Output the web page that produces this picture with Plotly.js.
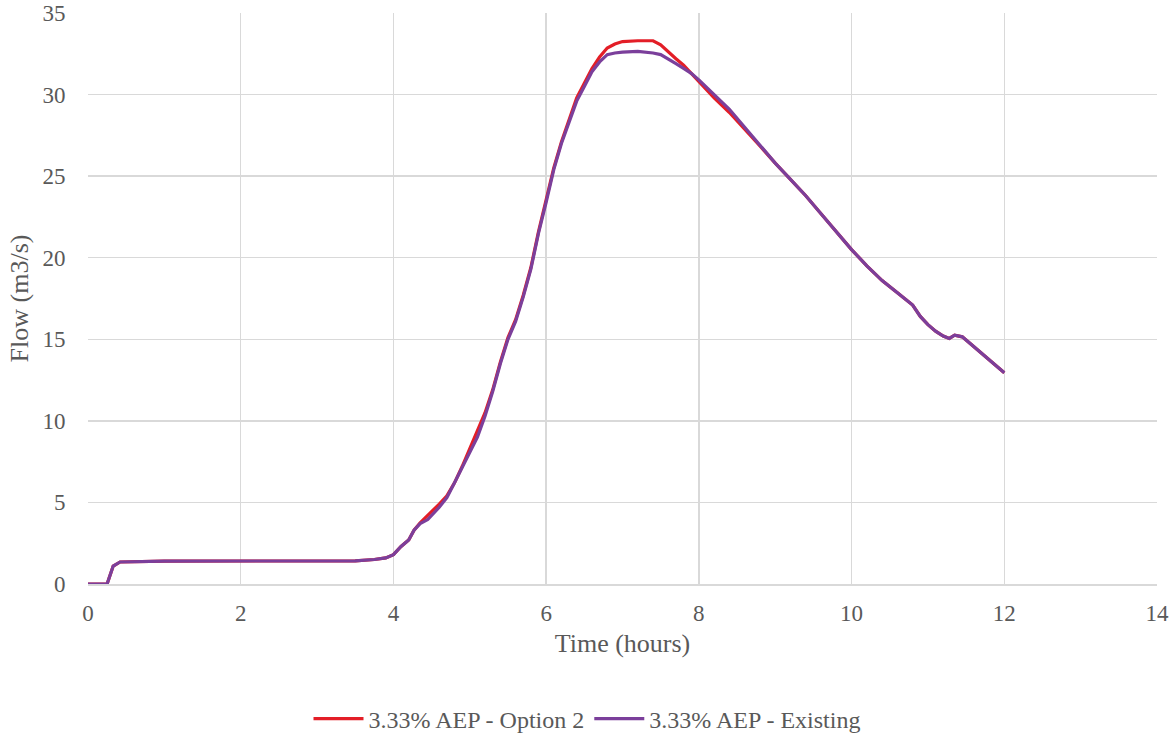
<!DOCTYPE html>
<html>
<head>
<meta charset="utf-8">
<script src="https://cdn.plot.ly/plotly-3.0.1.min.js"></script>
<style>html,body{margin:0;padding:0;background:#fff;}#chart{width:1174px;height:736px;}</style>
</head>
<body>
<div id="chart"></div>
<script>
const timeHours = [0, 0.25, 0.33, 0.42, 1, 2, 3, 3.5, 3.75, 3.9, 4.0, 4.1, 4.2, 4.27, 4.35, 4.45, 4.6, 4.7, 4.8, 4.9, 5.0, 5.1, 5.2, 5.3, 5.4, 5.5, 5.6, 5.7, 5.8, 5.9, 6.0, 6.1, 6.2, 6.3, 6.4, 6.5, 6.6, 6.7, 6.8, 6.9, 7.0, 7.2, 7.4, 7.5, 7.6, 7.7, 7.8, 7.9, 8.0, 8.2, 8.4, 8.6, 8.8, 9.0, 9.2, 9.4, 9.6, 9.8, 10.0, 10.2, 10.4, 10.6, 10.8, 10.9, 11.0, 11.1, 11.2, 11.28, 11.35, 11.45, 11.6, 11.7, 11.8, 11.9, 12.0];

const flowOption2 = [0, 0, 1.1, 1.35, 1.4, 1.4, 1.4, 1.42, 1.5, 1.6, 1.8, 2.3, 2.7, 3.3, 3.75, 4.2, 4.9, 5.4, 6.2, 7.2, 8.3, 9.3, 10.5, 11.9, 13.6, 15.1, 16.2, 17.7, 19.4, 21.6, 23.5, 25.5, 27.1, 28.5, 29.8, 30.7, 31.6, 32.3, 32.85, 33.1, 33.25, 33.3, 33.3, 33.05, 32.6, 32.2, 31.8, 31.3, 30.8, 29.8, 28.9, 27.9, 26.85, 25.8, 24.8, 23.8, 22.7, 21.6, 20.5, 19.5, 18.6, 17.85, 17.1, 16.4, 15.9, 15.5, 15.2, 15.05, 15.25, 15.15, 14.55, 14.1, 13.7, 13.3, 12.95];

const flowExisting = [0, 0, 1.1, 1.35, 1.4, 1.4, 1.4, 1.42, 1.5, 1.6, 1.8, 2.3, 2.7, 3.3, 3.7, 3.95, 4.7, 5.3, 6.2, 7.1, 8.0, 9.0, 10.3, 11.8, 13.5, 15.0, 16.1, 17.6, 19.3, 21.5, 23.4, 25.4, 27.0, 28.3, 29.6, 30.5, 31.4, 32.0, 32.45, 32.55, 32.6, 32.65, 32.55, 32.45, 32.2, 31.9, 31.6, 31.3, 30.9, 30.0, 29.1, 28.0, 26.9, 25.8, 24.8, 23.8, 22.7, 21.6, 20.5, 19.5, 18.6, 17.85, 17.1, 16.4, 15.9, 15.5, 15.2, 15.05, 15.25, 15.15, 14.55, 14.1, 13.7, 13.3, 12.95];

const seriesNames = ["3.33% AEP - Option 2", "3.33% AEP - Existing"];

const font = "Liberation Serif, Times New Roman, serif";
const txt = '#595959';

const traces = [
  {x: timeHours, y: flowOption2, name: seriesNames[0], type: 'scatter', mode: 'lines',
   line: {color: '#e31e27', width: 3.2}},
  {x: timeHours, y: flowExisting, name: seriesNames[1], type: 'scatter', mode: 'lines',
   line: {color: '#7b3f9b', width: 3.2}}
];

const layout = {
  width: 1174, height: 736,
  margin: {l: 88, r: 17, t: 13, b: 152},
  paper_bgcolor: '#fff', plot_bgcolor: '#fff',
  font: {family: font, color: txt, size: 23},
  showlegend: true,
  legend: {orientation: 'h', x: 0.5, xanchor: 'center', xref: 'container',
           y: 0.023, yanchor: 'middle', yref: 'container',
           itemwidth: 50, tracegroupgap: 0,
           font: {family: font, size: 24, color: txt}},
  xaxis: {
    range: [0, 14], dtick: 2, tick0: 0, automargin: false,
    showgrid: true, gridcolor: '#d9d9d9', gridwidth: 1.5,
    zeroline: false, showline: true, linecolor: '#d9d9d9', linewidth: 1.5,
    ticks: 'outside', ticklen: 8, tickcolor: 'rgba(0,0,0,0)',
    tickfont: {family: font, size: 23, color: txt},
    title: {text: 'Time (hours)', font: {family: font, size: 26, color: txt}, standoff: 8}
  },
  yaxis: {
    range: [0, 35], dtick: 5, tick0: 0, automargin: false,
    showgrid: true, gridcolor: '#d9d9d9', gridwidth: 1.5,
    zeroline: false, showline: false,
    ticks: 'outside', ticklen: 17, tickcolor: 'rgba(0,0,0,0)',
    tickfont: {family: font, size: 23, color: txt},
    title: {text: 'Flow (m3/s)', font: {family: font, size: 26, color: txt}, standoff: 6}
  }
};

Plotly.newPlot('chart', traces, layout, {displayModeBar: false, staticPlot: true});
</script>
</body>
</html>
